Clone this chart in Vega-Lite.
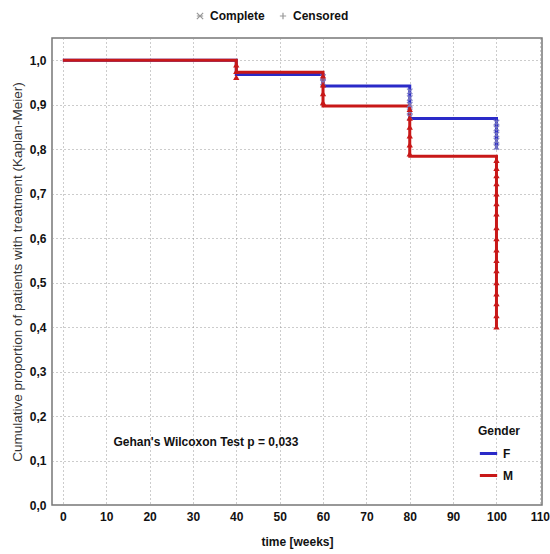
{
  "$schema": "https://vega.github.io/schema/vega-lite/v6.json",
  "width": 490,
  "height": 467,
  "padding": {"left": 10, "top": 10, "right": 6, "bottom": 2},
  "background": "white",
  "config": {
    "view": {"stroke": "#777", "strokeWidth": 1.5},
    "font": "Liberation Sans",
    "axis": {
      "grid": true,
      "gridColor": "#999",
      "gridDash": [1, 3],
      "gridWidth": 1,
      "domain": false,
      "tickSize": 0,
      "labelFont": "Liberation Sans",
      "labelFontWeight": "bold",
      "labelFontSize": 12,
      "labelColor": "#111",
      "labelPadding": 6
    }
  },
  "datasets": {
    "curve": [
      {"gender": "F", "time": 0, "surv": 1.0},
      {"gender": "F", "time": 40, "surv": 0.968},
      {"gender": "F", "time": 60, "surv": 0.942},
      {"gender": "F", "time": 80, "surv": 0.869},
      {"gender": "F", "time": 100, "surv": 0.869},
      {"gender": "F", "time": 100, "surv": 0.8},
      {"gender": "M", "time": 0, "surv": 1.0},
      {"gender": "M", "time": 40, "surv": 0.973},
      {"gender": "M", "time": 60, "surv": 0.897},
      {"gender": "M", "time": 80, "surv": 0.784},
      {"gender": "M", "time": 100, "surv": 0.784},
      {"gender": "M", "time": 100, "surv": 0.401}
    ],
    "marks": [
      {"gender": "F", "time": 60, "surv": 0.962},
      {"gender": "F", "time": 60, "surv": 0.95},
      {"gender": "F", "time": 80, "surv": 0.93},
      {"gender": "F", "time": 80, "surv": 0.915},
      {"gender": "F", "time": 80, "surv": 0.9},
      {"gender": "F", "time": 80, "surv": 0.885},
      {"gender": "F", "time": 80, "surv": 0.872},
      {"gender": "F", "time": 100, "surv": 0.86},
      {"gender": "F", "time": 100, "surv": 0.847},
      {"gender": "F", "time": 100, "surv": 0.833},
      {"gender": "F", "time": 100, "surv": 0.819},
      {"gender": "F", "time": 100, "surv": 0.805},
      {"gender": "M", "time": 40, "surv": 0.99},
      {"gender": "M", "time": 40, "surv": 0.975},
      {"gender": "M", "time": 40, "surv": 0.962},
      {"gender": "M", "time": 60, "surv": 0.965},
      {"gender": "M", "time": 60, "surv": 0.945},
      {"gender": "M", "time": 60, "surv": 0.925},
      {"gender": "M", "time": 60, "surv": 0.905},
      {"gender": "M", "time": 80, "surv": 0.89},
      {"gender": "M", "time": 80, "surv": 0.87},
      {"gender": "M", "time": 80, "surv": 0.85},
      {"gender": "M", "time": 80, "surv": 0.83},
      {"gender": "M", "time": 80, "surv": 0.81},
      {"gender": "M", "time": 80, "surv": 0.79},
      {"gender": "M", "time": 100, "surv": 0.775},
      {"gender": "M", "time": 100, "surv": 0.757},
      {"gender": "M", "time": 100, "surv": 0.741},
      {"gender": "M", "time": 100, "surv": 0.723},
      {"gender": "M", "time": 100, "surv": 0.7},
      {"gender": "M", "time": 100, "surv": 0.678},
      {"gender": "M", "time": 100, "surv": 0.655},
      {"gender": "M", "time": 100, "surv": 0.624},
      {"gender": "M", "time": 100, "surv": 0.599},
      {"gender": "M", "time": 100, "surv": 0.574},
      {"gender": "M", "time": 100, "surv": 0.55},
      {"gender": "M", "time": 100, "surv": 0.527},
      {"gender": "M", "time": 100, "surv": 0.5},
      {"gender": "M", "time": 100, "surv": 0.475},
      {"gender": "M", "time": 100, "surv": 0.453},
      {"gender": "M", "time": 100, "surv": 0.426},
      {"gender": "M", "time": 100, "surv": 0.401}
    ],
    "keys": [
      {"type": "Complete", "time": 50, "surv": 0.5},
      {"type": "Censored", "time": 50, "surv": 0.5}
    ],
    "note": [
      {"time": 33, "surv": 0.142, "label": "Gehan's Wilcoxon Test p = 0,033"}
    ]
  },
  "encoding": {
    "x": {
      "field": "time",
      "type": "quantitative",
      "scale": {"domain": [-2.5, 110.5], "nice": false, "zero": false},
      "axis": {
        "values": [0, 10, 20, 30, 40, 50, 60, 70, 80, 90, 100, 110],
        "title": "time [weeks]",
        "titleFont": "Liberation Sans",
        "titleFontWeight": "bold",
        "titleFontSize": 12,
        "titleColor": "#111",
        "titlePadding": 14
      }
    },
    "y": {
      "field": "surv",
      "type": "quantitative",
      "scale": {"domain": [0, 1.05], "nice": false},
      "axis": {
        "values": [0, 0.1, 0.2, 0.3, 0.4, 0.5, 0.6, 0.7, 0.8, 0.9, 1.0],
        "labelExpr": "replace(format(datum.value, '.1f'), '.', ',')",
        "title": "Cumulative proportion of patients with treatment (Kaplan-Meier)",
        "titleFont": "Liberation Sans",
        "titleFontWeight": "normal",
        "titleFontSize": 13.5,
        "titleColor": "#333",
        "titlePadding": 5
      }
    }
  },
  "layer": [
    {
      "data": {"name": "curve"},
      "mark": {"type": "line", "interpolate": "step-after", "strokeWidth": 3},
      "encoding": {
        "color": {
          "field": "gender",
          "type": "nominal",
          "scale": {"domain": ["F", "M"], "range": ["#2a2ac8", "#c81818"]},
          "legend": {
            "title": "Gender",
            "orient": "none",
            "legendX": 426,
            "legendY": 388,
            "symbolType": "stroke",
            "symbolSize": 300,
            "symbolStrokeWidth": 3,
            "titleFont": "Liberation Sans",
            "titleFontSize": 12,
            "titleFontWeight": "bold",
            "titleColor": "#111",
            "labelFont": "Liberation Sans",
            "labelFontSize": 12,
            "labelFontWeight": "bold",
            "labelColor": "#111",
            "rowPadding": 5
          }
        },
        "order": {"field": "gender"}
      }
    },
    {
      "data": {"name": "marks"},
      "transform": [{"filter": "datum.gender == 'F'"}],
      "mark": {"type": "point", "shape": "M-1,-1L1,1M-1,1L1,-1M0,-1L0,1", "filled": false, "size": 30, "strokeWidth": 1.2, "color": "#7a7ac0", "opacity": 0.9}
    },
    {
      "data": {"name": "marks"},
      "transform": [{"filter": "datum.gender == 'M'"}],
      "mark": {"type": "point", "shape": "triangle-up", "filled": true, "size": 40, "color": "#c81818", "opacity": 1}
    },
    {
      "data": {"name": "keys"},
      "mark": {"type": "point", "filled": false, "opacity": 0, "size": 40},
      "encoding": {
        "shape": {
          "field": "type",
          "type": "nominal",
          "sort": ["Complete", "Censored"],
          "scale": {"domain": ["Complete", "Censored"], "range": ["M-1,-1L1,1M-1,1L1,-1M-1,0L1,0", "M-1,0L1,0M0,-1L0,1"]},
          "legend": {
            "title": null,
            "orient": "none",
            "legendX": 142,
            "legendY": -28,
            "direction": "horizontal",
            "symbolOpacity": 1,
            "symbolStrokeColor": "#999",
            "symbolStrokeWidth": 1.2,
            "symbolSize": 40,
            "labelFont": "Liberation Sans",
            "labelFontSize": 12,
            "labelFontWeight": "bold",
            "labelColor": "#111",
            "columnPadding": 12
          }
        }
      }
    },
    {
      "data": {"name": "note"},
      "mark": {"type": "text", "font": "Liberation Sans", "fontWeight": "bold", "fontSize": 12, "color": "#111", "align": "center", "baseline": "middle"},
      "encoding": {"text": {"field": "label"}}
    }
  ]
}
